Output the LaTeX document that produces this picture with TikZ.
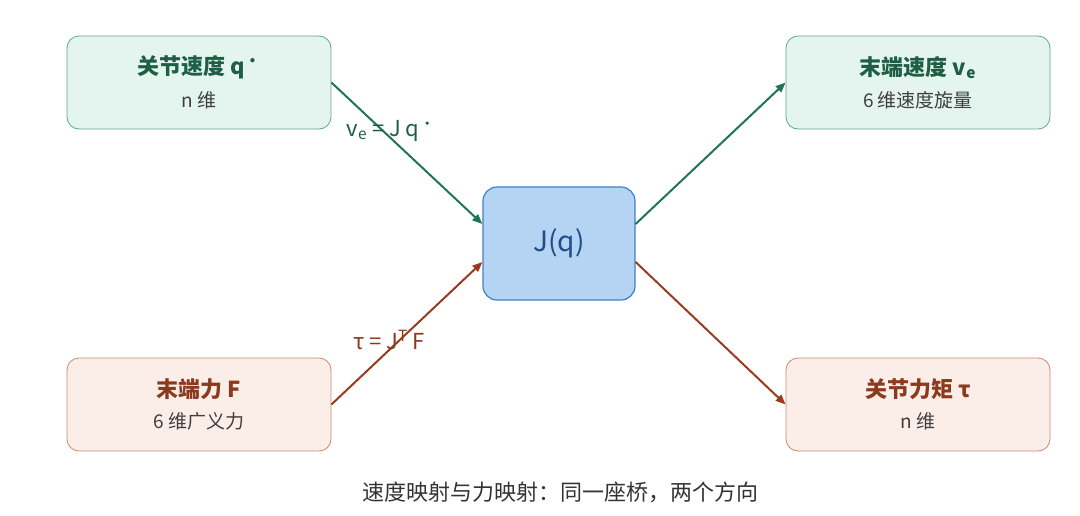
\documentclass[tikz,border=0pt]{standalone}
\usepackage{fontspec}
\setmainfont{Noto Sans CJK SC}
\usetikzlibrary{positioning,arrows.meta}
\definecolor{velfill}{HTML}{E3F5EE}
\definecolor{veldraw}{HTML}{5FA88A}
\definecolor{veltext}{HTML}{1E5E44}
\definecolor{velarrow}{HTML}{1F7555}
\definecolor{forfill}{HTML}{FBEDE7}
\definecolor{fordraw}{HTML}{C98A73}
\definecolor{fortext}{HTML}{8B3A1E}
\definecolor{forarrow}{HTML}{9A3A1E}
\definecolor{jacfill}{HTML}{B5D3F2}
\definecolor{jacdraw}{HTML}{3F7FC7}
\definecolor{jactext}{HTML}{1F4E8C}
\tikzset{
  box/.style={rounded corners=12pt, minimum width=264pt, minimum height=93pt,
    align=center, inner sep=0pt, line width=0.8pt},
  velbox/.style={box, fill=velfill, draw=veldraw},
  forbox/.style={box, fill=forfill, draw=fordraw},
  link/.style={-{Stealth[length=10pt,width=8pt,inset=0pt]}, line width=2pt}
}
\begin{document}
\begin{tikzpicture}[x=1pt,y=-1pt]
  \useasboundingbox (0,0) rectangle (1080,515);
  % boxes
  \node [velbox] (qdot) at (199,82.5) {{\color{veltext}\fontsize{22}{26}\selectfont\bfseries 关节速度 q\textsuperscript{·}}\\[12pt]{\fontsize{19}{22}\selectfont\color{black!75} n 维}};
  \node [velbox] (ve) at (918,82.5) {{\color{veltext}\fontsize{22}{26}\selectfont\bfseries 末端速度 v\textsubscript{e}}\\[12pt]{\fontsize{19}{22}\selectfont\color{black!75} 6 维速度旋量}};
  \node [forbox] (F) at (199,404.5) {{\color{fortext}\fontsize{22}{26}\selectfont\bfseries 末端力 F}\\[12pt]{\fontsize{19}{22}\selectfont\color{black!75} 6 维广义力}};
  \node [forbox] (tau) at (918,404.5) {{\color{fortext}\fontsize{22}{26}\selectfont\bfseries 关节力矩 τ}\\[12pt]{\fontsize{19}{22}\selectfont\color{black!75} n 维}};
  \node [rounded corners=14pt, minimum width=152pt, minimum height=113pt, fill=jacfill,
    draw=jacdraw, line width=1.2pt, text=jactext, font=\fontsize{28}{32}\selectfont] (J) at (559,243.5) {J(q)};
  % connectors
  \draw [link, velarrow] (qdot.east) -- ([yshift=19.5pt]J.west);
  \draw [link, velarrow] ([yshift=19.5pt]J.east) -- (ve.west);
  \draw [link, forarrow] (F.east) -- ([yshift=-18.5pt]J.west);
  \draw [link, forarrow] ([yshift=-18.5pt]J.east) -- (tau.west);
  % labels
  \node [text=veltext, font=\fontsize{22}{26}\selectfont] (vlab) at (391,131) {v\textsubscript{e} = J q\textsuperscript{·}};
  \node [text=fortext, font=\fontsize{22}{26}\selectfont] (tlab) at (389,340) {τ = J\textsuperscript{T} F};
  \node [font=\fontsize{22}{26}\selectfont, text=black!80] (cap) at (560,492) {速度映射与力映射：同一座桥，两个方向};
\end{tikzpicture}
\end{document}
